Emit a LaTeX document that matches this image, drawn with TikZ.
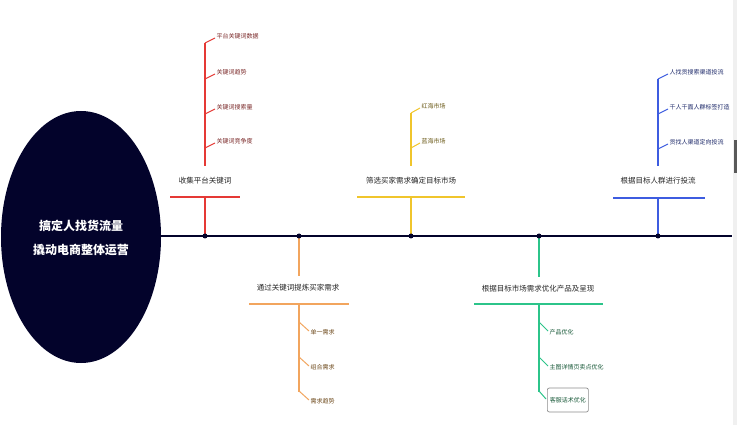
\documentclass[tikz,border=0pt]{standalone}
\usepackage{fontspec}
\usetikzlibrary{shapes.geometric}
\setmainfont{Noto Sans CJK SC}
\definecolor{navy}{HTML}{03032B}
\definecolor{redL}{HTML}{E53935}
\definecolor{redT}{HTML}{7A2828}
\definecolor{oraL}{HTML}{F2A55E}
\definecolor{oraT}{HTML}{6E4A1C}
\definecolor{yelL}{HTML}{F0C52C}
\definecolor{yelT}{HTML}{6B5A18}
\definecolor{grnL}{HTML}{2CC48A}
\definecolor{grnT}{HTML}{1A5A3A}
\definecolor{bluL}{HTML}{3D5CE0}
\definecolor{bluT}{HTML}{1E2A6A}
\tikzset{
  mainline/.style={navy, line width=2.2pt},
  dotmark/.style={circle, fill=navy, inner sep=0pt, minimum size=5pt},
  topic/.style={font=\fontsize{7.5}{9}\selectfont, text=black!85, inner sep=1pt},
  uline/.style={line width=1.8pt},
  stem/.style={line width=1.1pt},
  tick/.style={line width=1pt},
  sub/.style={font=\fontsize{6}{7}\selectfont, anchor=west, inner sep=0.5pt},
}
\begin{document}
\begin{tikzpicture}[x=1pt,y=-1pt]
\useasboundingbox (0,0) rectangle (737,425);
\fill[white] (0,0) rectangle (737,425);
% scrollbar artifact
\fill[black!6] (733,0) rectangle (737,425);
\fill[black!65] (734,140) rectangle (737,173);
% centre ellipse
\node[ellipse, fill=navy, minimum width=160pt, minimum height=252pt, inner sep=0pt] (core) at (81,237) {};
\node[text=white, font=\fontsize{12}{24}\selectfont\bfseries, align=center] (coretxt) at (81,238) {搞定人找货流量\\撬动电商整体运营};
% main line
\coordinate (mend) at (732,236);
\coordinate (m1) at (205,236);
\coordinate (m2) at (299,236);
\coordinate (m3) at (411,236);
\coordinate (m4) at (539,236);
\coordinate (m5) at (658,236);
\draw[mainline] (core.east |- mend) -- (mend);

% ---------- branch 1 (red, up)
\node[topic] (l1) at (205,181) {收集平台关键词};
\coordinate (u1) at (205,197);
\draw[redL, uline] (170,197) -- (240,197);
\draw[redL, stem] (m1) -- (u1);
\coordinate (s1) at (205,166);
\coordinate (t1a) at (205,43);
\draw[redL, stem] (s1) -- (t1a);
\node[sub, text=redT] (c11) at (216,36) {平台关键词数据};
\node[sub, text=redT] (c12) at (216,72) {关键词趋势};
\node[sub, text=redT] (c13) at (216,107) {关键词搜索量};
\node[sub, text=redT] (c14) at (216,141) {关键词竞争度};
\foreach \c/\y in {c11/36,c12/72,c13/107,c14/141}
  \draw[redL, tick] (205,\y+7) -- ([xshift=-1pt,yshift=-2pt]\c.west);

% ---------- branch 2 (orange, down)
\node[topic] (l2) at (298,288) {通过关键词提炼买家需求};
\coordinate (u2) at (299,304);
\coordinate (a2) at (299,276);
\draw[oraL, uline] (249,304) -- (349,304);
\draw[oraL, stem] (m2) -- (a2);
\coordinate (e2) at (299,392);
\draw[oraL, stem] (u2) -- (e2);
\node[sub, text=oraT] (c21) at (310,332) {单一需求};
\node[sub, text=oraT] (c22) at (310,367) {组合需求};
\node[sub, text=oraT] (c23) at (310,401) {需求趋势};
\foreach \c/\y in {c21/332,c22/367,c23/401}
  \draw[oraL, tick] (299,\y-10) -- ([xshift=-1pt,yshift=1pt]\c.west);

% ---------- branch 3 (yellow, up)
\node[topic] (l3) at (411,181) {筛选买家需求确定目标市场};
\coordinate (u3) at (411,197);
\draw[yelL, uline] (357,197) -- (465,197);
\draw[yelL, stem] (m3) -- (u3);
\coordinate (s3) at (411,166);
\coordinate (t3a) at (411,113);
\draw[yelL, stem] (s3) -- (t3a);
\node[sub, text=yelT] (c31) at (421,106) {红海市场};
\node[sub, text=yelT] (c32) at (421,141) {蓝海市场};
\foreach \c/\y in {c31/106,c32/141}
  \draw[yelL, tick] (411,\y+7) -- ([xshift=-1pt,yshift=-2pt]\c.west);

% ---------- branch 4 (green, down)
\node[topic] (l4) at (538,289) {根据目标市场需求优化产品及呈现};
\coordinate (u4) at (539,304);
\coordinate (a4) at (539,277);
\draw[grnL, uline] (474,304) -- (603,304);
\draw[grnL, stem] (m4) -- (a4);
\coordinate (e4) at (539,392);
\draw[grnL, stem] (u4) -- (e4);
\node[sub, text=grnT] (c41) at (549,332) {产品优化};
\node[sub, text=grnT] (c42) at (549,367) {主图详情页卖点优化};
\node[sub, text=grnT, draw=black!45, line width=0.7pt, rounded corners=2pt, minimum width=41pt, minimum height=24pt, inner xsep=2.5pt] (c43) at (547,400) {客服话术优化};
\foreach \c/\y in {c41/332,c42/367,c43/401}
  \draw[grnL, tick] (539,\y-10) -- ([xshift=-1pt,yshift=1pt]\c.west);

% ---------- branch 5 (blue, up)
\node[topic] (l5) at (658,181) {根据目标人群进行投流};
\coordinate (u5) at (658,198);
\draw[bluL, uline] (613,198) -- (705,198);
\draw[bluL, stem] (m5) -- (u5);
\coordinate (s5) at (658,166);
\coordinate (t5a) at (658,79);
\draw[bluL, stem] (s5) -- (t5a);
\node[sub, text=bluT] (c51) at (669,72) {人找货搜索渠道投流};
\node[sub, text=bluT] (c52) at (669,107) {千人千面人群标签打造};
\node[sub, text=bluT] (c53) at (669,142) {货找人渠道定向投流};
\foreach \c/\y in {c51/72,c52/107,c53/142}
  \draw[bluL, tick] (658,\y+7) -- ([xshift=-1pt,yshift=-2pt]\c.west);

% dots on main line
\foreach \m in {m1,m2,m3,m4,m5}
  \node[dotmark] at (\m) {};
\end{tikzpicture}
\end{document}
